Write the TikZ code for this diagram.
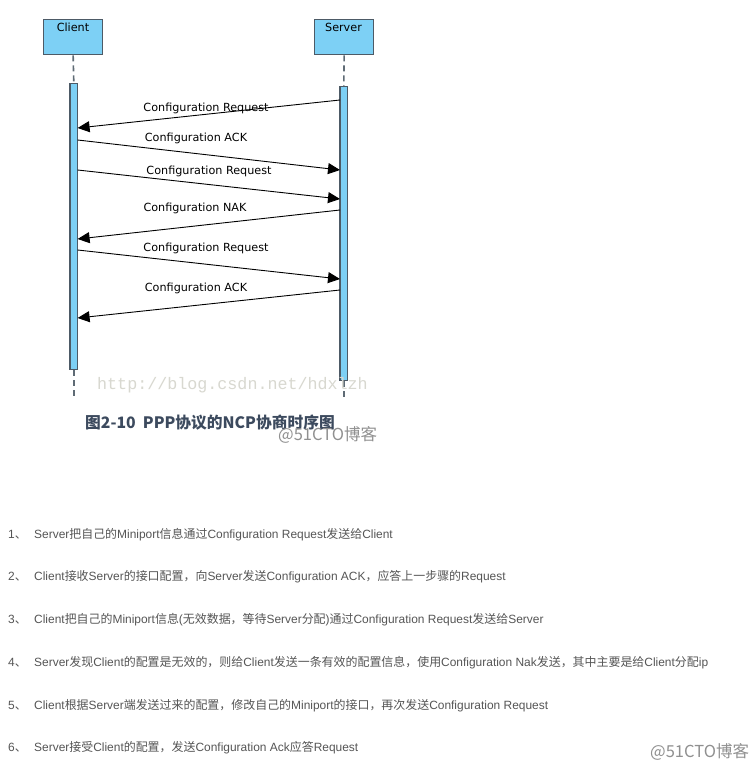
\documentclass[tikz,border=0pt]{standalone}
\usepackage{fontspec}
\setmainfont{Liberation Sans}
\newfontfamily\diag{DejaVu Sans}
\newfontfamily\cjk{Noto Sans CJK SC}
\newfontfamily\wmfont{Liberation Mono}
\usetikzlibrary{arrows.meta}
\definecolor{boxblue}{HTML}{7DD0F5}
\definecolor{boxline}{HTML}{4D5A66}
\definecolor{capcol}{HTML}{3C4A5E}
\definecolor{listcol}{HTML}{555555}
\definecolor{wmcol}{HTML}{D8D8D0}
\definecolor{logocol}{HTML}{909090}
\tikzset{
  actor/.style={draw=boxline, fill=boxblue, line width=1.3pt, minimum width=59pt, minimum height=35pt, anchor=north west, inner sep=0pt},
  actbar/.style={draw=boxline, fill=boxblue, line width=1.2pt, minimum width=7.5pt, anchor=north, inner sep=0pt},
  life/.style={draw=boxline!90, line width=1.6pt, dash pattern=on 6pt off 4pt},
  msg/.style={draw=black, line width=0.9pt, -{Triangle[length=12pt,width=11pt]}},
  msglabel/.style={font=\diag\fontsize{11.2}{13}\selectfont, inner sep=0pt},
  item/.style={font=\fontsize{11.95}{14}\selectfont, text=listcol, anchor=west, inner sep=0pt},
  logo/.style={font=\cjk\fontsize{16.5}{18}\selectfont, text=logocol, inner sep=0pt, anchor=west},
}
\begin{document}
\begin{tikzpicture}[x=1pt,y=-1pt]
\useasboundingbox (0,0) rectangle (753,778);
\fill[white] (0,0) rectangle (753,778);
% actors
\node[actor] (client) at (43,19) {};
\node[actor] (server) at (314,19) {};
\node[font=\diag\fontsize{11.2}{13}\selectfont, anchor=north, inner sep=0pt] (clientt) at (73,22.5) {Client};
\node[font=\diag\fontsize{11.2}{13}\selectfont, anchor=north, inner sep=0pt] (servert) at (343.5,22.5) {Server};
% activation bars
\node[actbar, minimum height=286pt] (cbar) at (73.8,83) {};
\node[actbar, minimum height=294pt] (sbar) at (343.8,86) {};
% lifelines
\coordinate (cend) at (73.8,399);
\coordinate (send) at (343.8,399);
\draw[life] (client.south) -- (cbar.north);
\draw[life] (server.south) -- (sbar.north);
\draw[life] (cbar.south) -- (cend);
\draw[life] (sbar.south) -- (send);
% message end points
\coordinate (s1) at (340,100); \coordinate (c1) at (77.6,128);
\coordinate (c2) at (77.6,140); \coordinate (s2) at (340,170);
\coordinate (c3) at (77.6,170); \coordinate (s3) at (340,199);
\coordinate (s4) at (340,210); \coordinate (c4) at (77.6,239);
\coordinate (c5) at (77.6,250); \coordinate (s5) at (340,279);
\coordinate (s6) at (340,290); \coordinate (c6) at (77.6,318);
\draw[msg] (s1) -- (c1);
\draw[msg] (c2) -- (s2);
\draw[msg] (c3) -- (s3);
\draw[msg] (s4) -- (c4);
\draw[msg] (c5) -- (s5);
\draw[msg] (s6) -- (c6);
\node[msglabel] (l1) at (206,108.5) {Configuration Request};
\node[msglabel] (l2) at (196,138.5) {Configuration ACK};
\node[msglabel] (l3) at (209,171.5) {Configuration Request};
\node[msglabel] (l4) at (195,208.5) {Configuration NAK};
\node[msglabel] (l5) at (206,248.5) {Configuration Request};
\node[msglabel] (l6) at (196,288.5) {Configuration ACK};
% watermark
\node[font=\wmfont\fontsize{16.7}{18}\selectfont, text=wmcol, inner sep=0pt, anchor=west] (wm) at (97,385) {http://blog.csdn.net/hdxlzh};
% caption
\node[font=\cjk\bfseries\fontsize{15.75}{18}\selectfont, text=capcol, inner sep=0pt, anchor=west] (cap) at (85,423) {图2-10\ \ PPP协议的NCP协商时序图};
\node[logo] (logo1) at (278,435) {@51CTO博客};
% list
\node[item] (n1) at (8,535) {1{\cjk 、}};
\node[item] (n2) at (8,577) {2{\cjk 、}};
\node[item] (n3) at (8,620) {3{\cjk 、}};
\node[item] (n4) at (8,663) {4{\cjk 、}};
\node[item] (n5) at (8,706) {5{\cjk 、}};
\node[item] (n6) at (8,748) {6{\cjk 、}};
\node[item] (t1) at (34,535) {Server{\cjk 把自己的}Miniport{\cjk 信息通过}Configuration Request{\cjk 发送给}Client};
\node[item] (t2) at (34,577) {Client{\cjk 接收}Server{\cjk 的接口配置，向}Server{\cjk 发送}Configuration ACK{\cjk ，应答上一步骤的}Request};
\node[item] (t3) at (34,620) {Client{\cjk 把自己的}Miniport{\cjk 信息}({\cjk 无效数据，等待}Server{\cjk 分配}){\cjk 通过}Configuration Request{\cjk 发送给}Server};
\node[item] (t4) at (34,663) {Server{\cjk 发现}Client{\cjk 的配置是无效的，则给}Client{\cjk 发送一条有效的配置信息，使用}Configuration Nak{\cjk 发送，其中主要是给}Client{\cjk 分配}ip};
\node[item] (t5) at (34,706) {Client{\cjk 根据}Server{\cjk 端发送过来的配置，修改自己的}Miniport{\cjk 的接口，再次发送}Configuration Request};
\node[item] (t6) at (34,748) {Server{\cjk 接受}Client{\cjk 的配置，发送}Configuration Ack{\cjk 应答}Request};
\node[logo] (logo2) at (650,752) {@51CTO博客};
\end{tikzpicture}
\end{document}
